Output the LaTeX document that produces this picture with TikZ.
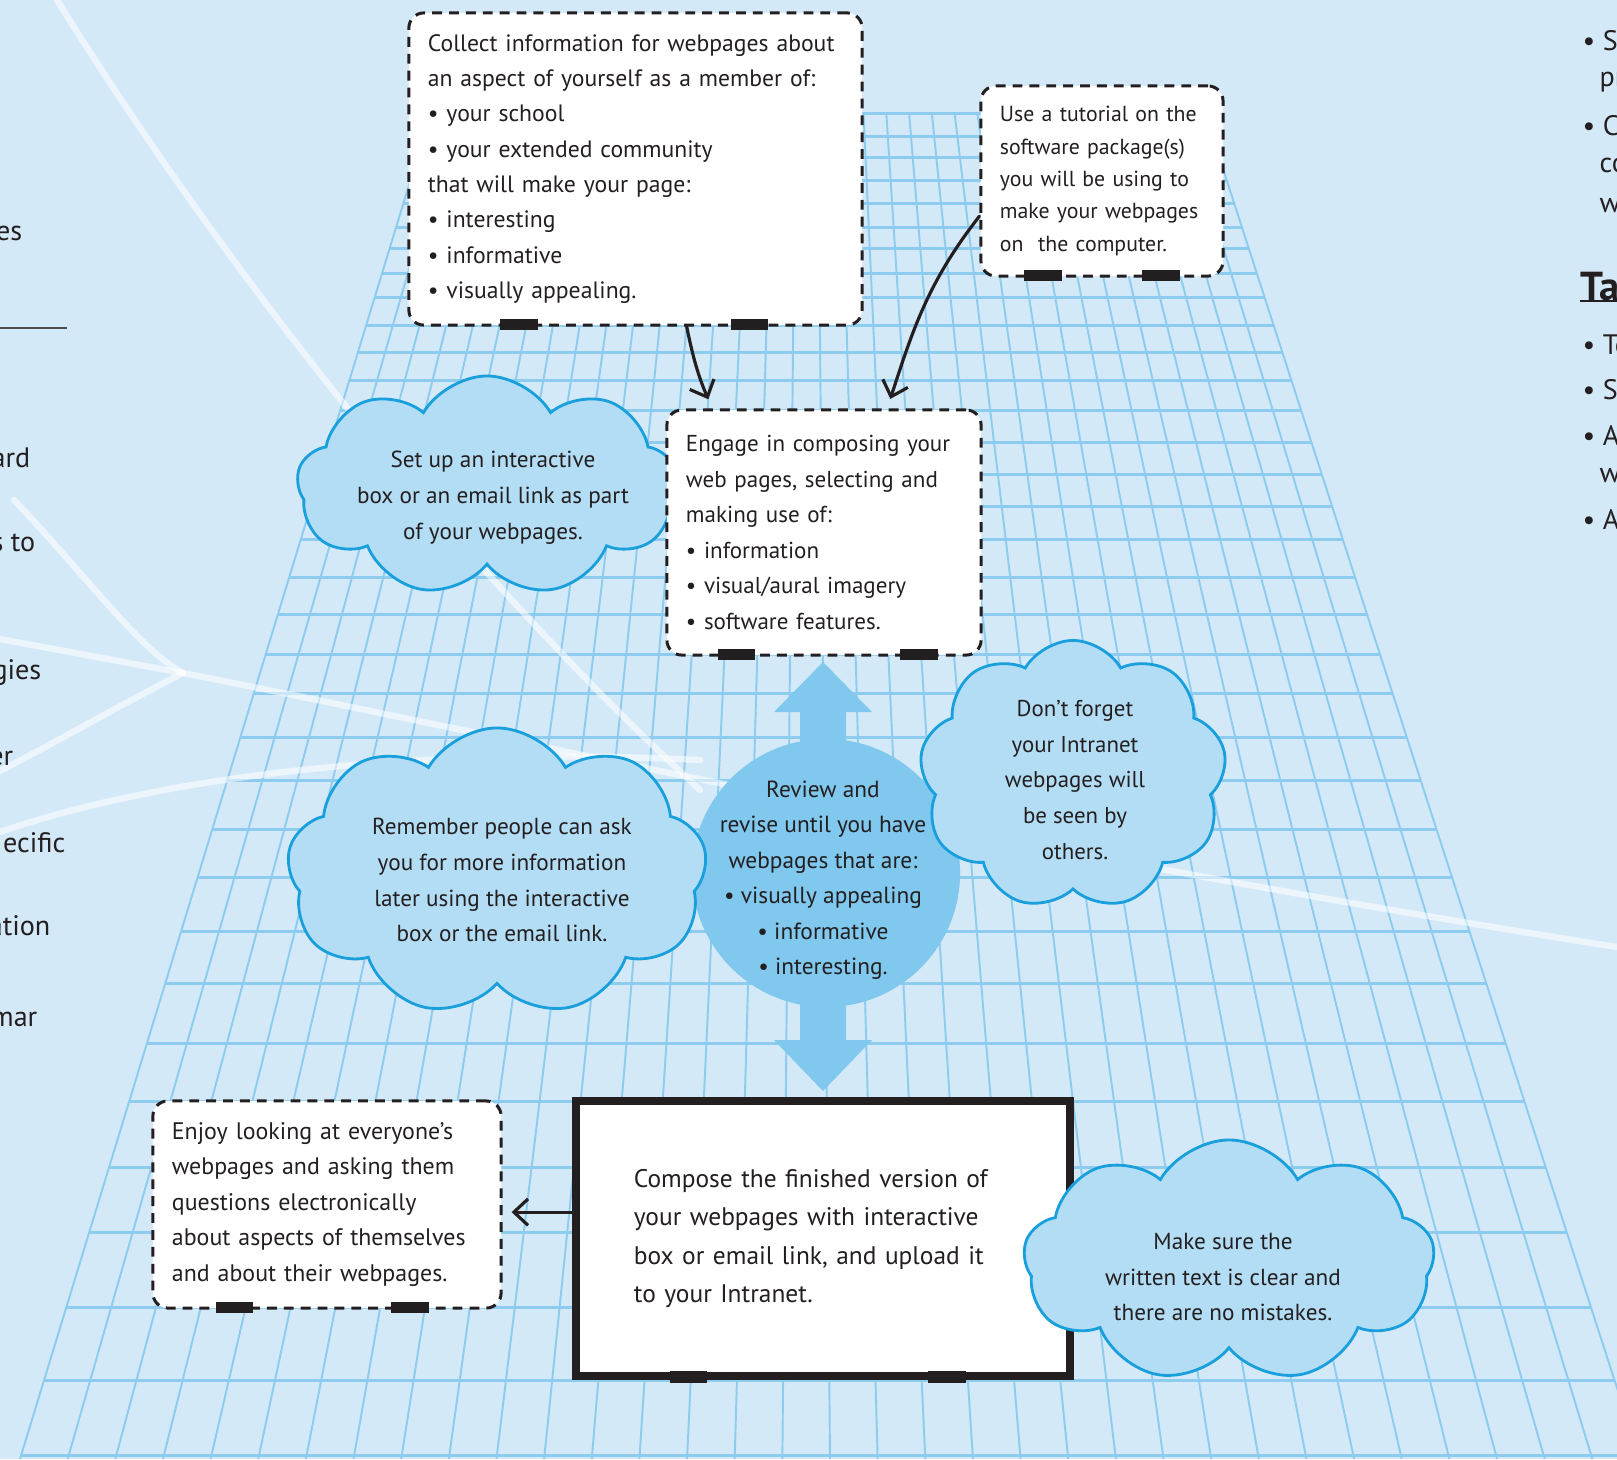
\documentclass[tikz,border=0pt]{standalone}
\usepackage{fontspec}
\setmainfont{PT Sans}
\usetikzlibrary{arrows.meta, positioning, shapes.symbols}

\definecolor{pagebg}{RGB}{212,233,247}
\definecolor{gridblue}{RGB}{141,203,239}
\definecolor{cloudfill}{RGB}{179,221,244}
\definecolor{cloudline}{RGB}{26,159,221}
\definecolor{reviewblue}{RGB}{128,200,238}
\definecolor{ink}{RGB}{35,31,32}

\tikzset{
  notebox/.style={draw=ink, fill=white, line width=0.85pt, dash pattern=on 2.8pt off 2pt,
    rounded corners=0.15cm, align=left, inner xsep=0.19cm, inner ysep=0pt, text=ink},
  mainbox/.style={draw=ink, fill=white, line width=2.3pt, align=left, text=ink,
    inner xsep=0.58cm, inner ysep=0pt},
  thought/.style={cloud, cloud puffs=9, cloud puff arc=120, cloud ignores aspect,
    fill=cloudfill, draw=cloudline, line width=0.8pt, inner sep=0pt},
  thoughttext/.style={align=center, text=ink, inner sep=0pt, font=\fontsize{6.6}{10.2}\selectfont},
  flowarrow/.style={draw=ink, line width=0.9pt, line cap=round,
    -{Straight Barb[length=4pt, width=7.5pt]}},
  gridline/.style={draw=gridblue, line width=0.55pt},
  streak/.style={draw=white, line width=1.8pt, opacity=0.55, line cap=round},
  edgetext/.style={text=ink, inner sep=0pt, font=\fontsize{8}{10}\selectfont},
}

\begin{document}
\hyphenpenalty=10000
\exhyphenpenalty=10000
\begin{tikzpicture}[x=0.01cm, y=-0.01cm]
    \useasboundingbox (0,0) rectangle (1617,1459);
    \fill[pagebg] (0,0) rectangle (1617,1459);

    % Floor grid
    \foreach \i in {0,...,34}
        \draw[gridline] ({431+\i*22.765},113) -- ({20+\i*47.647},1459);
    \foreach \gy in {113,136,157,180,203,227,248,273,297,325,352,380,410,442,474,506,539,577,614,654,693,737,780,829,877,931,983,1043,1101,1167,1232,1307,1380,1455}
        \draw[gridline, line width=0.85pt] ({431-0.305*(\gy-113)},\gy) -- ({1205+0.323*(\gy-113)},\gy);

    % White streaks
    \draw[streak] (57,0) .. controls (200,230) and (430,540) .. (700,790);
    \draw[streak] (14,500) .. controls (90,580) and (140,650) .. (183,673);
    \draw[streak] (0,639) -- (183,673);
    \draw[streak] (183,673) .. controls (120,705) and (60,740) .. (0,771);
    \draw[streak] (183,673) .. controls (500,735) and (1000,850) .. (1617,947);
    \draw[streak] (0,832) .. controls (150,780) and (400,745) .. (700,760);

    % Review circle and two-way arrow
    \fill[reviewblue] (823,662) -- (872,712) -- (846,712) -- (846,1040) -- (872,1040)
        -- (823,1091) -- (774,1040) -- (800,1040) -- (800,712) -- (774,712) -- cycle;
    \node[circle, fill=reviewblue, minimum size=2.68cm, inner sep=0pt] (review) at (826,873) {};
    \node[thoughttext, font=\fontsize{6.64}{10.1}\selectfont] (reviewtext) at (823,880)
        {Review and\\ revise until you have\\ webpages that are:\\ \textbullet\ visually appealing\\ \textbullet\ informative\\ \textbullet\ interesting.};

    % Thought clouds
    \node[thought, minimum width=3.8cm, minimum height=2.2cm] (setup) at (487,486) {};
    \node[thoughttext] (setuptext) at (493,498)
        {Set up an interactive\\ box or an email link as part\\ of your webpages.};
    \node[thought, minimum width=4.2cm, minimum height=2.88cm] (remember) at (497,872) {};
    \node[thoughttext] (remembertext) at (502,880)
        {Remember people can ask\\ you for more information\\ later using the interactive\\ box or the email link.};
    \node[thought, minimum width=3.07cm, minimum height=2.69cm] (forget) at (1073,775) {};
    \node[thoughttext, font=\fontsize{6.5}{10.2}\selectfont] (forgettext) at (1075,780)
        {Don’t forget\\ your Intranet\\ webpages will\\ be seen by\\ others.};

    % Task boxes
    \node[notebox, text width=4.15cm, minimum height=3.12cm, font=\fontsize{6.73}{10.05}\selectfont] (collect) at (635.5,169)
        {Collect information for webpages about\\ an aspect of yourself as a member of:\\ \textbullet\ your school\\ \textbullet\ your extended community\\ that will make your page:\\ \textbullet\ interesting\\ \textbullet\ informative\\ \textbullet\ visually appealing.};
    \node[notebox, text width=2.04cm, minimum height=1.9cm, font=\fontsize{6.2}{9.2}\selectfont] (tutorial) at (1102,181)
        {Use a tutorial on the\\ software package(s)\\ you will be using to\\ make your webpages\\ on\ \ the computer.};
    \node[notebox, text width=2.76cm, minimum height=2.45cm, font=\fontsize{6.55}{10.1}\selectfont] (engage) at (824,532.5)
        {Engage in composing your\\ web pages, selecting and\\ making use of:\\ \textbullet\ information\\ \textbullet\ visual/aural imagery\\ \textbullet\ software features.};
    \node[notebox, text width=3.1cm, minimum height=2.07cm, font=\fontsize{6.8}{10.1}\selectfont] (enjoy) at (327,1204.5)
        {Enjoy looking at everyone’s\\ webpages and asking them\\ questions electronically\\ about aspects of themselves\\ and about their webpages.};
    \node[mainbox, text width=3.78cm, minimum height=2.75cm, font=\fontsize{7.23}{10.9}\selectfont] (compose) at (823,1238.5)
        {Compose the finished version of\\ your webpages with interactive\\ box or email link, and upload it\\ to your Intranet.};

    % Tabs on the box edges
    \fill[ink] (500,319) rectangle (538,330);
    \fill[ink] (731,319) rectangle (768,330);
    \fill[ink] (1024,270) rectangle (1062,281);
    \fill[ink] (1142,270) rectangle (1180,281);
    \fill[ink] (718,649) rectangle (755,660);
    \fill[ink] (900,649) rectangle (938,660);
    \fill[ink] (216,1302) rectangle (253,1313);
    \fill[ink] (391,1302) rectangle (429,1313);
    \fill[ink] (670,1371) rectangle (707,1383);
    \fill[ink] (928,1371) rectangle (966,1383);

    % Last cloud sits over the compose box
    \node[thought, minimum width=4.11cm, minimum height=2.42cm] (check) at (1229,1261) {};
    \node[thoughttext] (checktext) at (1223,1277)
        {Make sure the\\ written text is clear and\\ there are no mistakes.};

    % Connectors
    \draw[flowarrow, shorten >=0.1cm] (collect.288) to[bend right=6] (engage.132);
    \draw[flowarrow, shorten >=0.1cm] (tutorial.196) to[out=232, in=72] (engage.63);
    \draw[flowarrow, shorten >=0.09cm] (compose.174) -- (enjoy.east |- compose.174);

    % Neighbouring page text
    \node[edgetext, anchor=east] (lefta) at (23,233) {es};
    \draw[ink!80, line width=0.5pt] (0,328) -- (67,328);
    \node[edgetext, anchor=east] (leftb) at (31,458) {ard};
    \node[edgetext, anchor=east] (leftc) at (36,543) {s to};
    \node[edgetext, anchor=east] (leftd) at (42,673) {gies};
    \node[edgetext, anchor=east] (lefte) at (14,758) {er};
    \node[edgetext, anchor=east] (leftf) at (66,843) {ecific};
    \node[edgetext, anchor=east] (leftg) at (51,926) {ation};
    \node[edgetext, anchor=east] (lefth) at (38,1019) {mar};

    \node[edgetext, anchor=west] (righta) at (1582,41) {\textbullet\ Sc};
    \node[edgetext, anchor=west] (rightb) at (1599,82) {pr};
    \node[edgetext, anchor=west] (rightc) at (1582,126) {\textbullet\ Co};
    \node[edgetext, anchor=west] (rightd) at (1599,165) {co};
    \node[edgetext, anchor=west] (righte) at (1599,203) {wh};
    \node[edgetext, anchor=west, font=\fontsize{11.5}{13}\bfseries] (rightf) at (1580,286) {Ta};
    \draw[ink, line width=0.7pt] (1580,301) -- (1617,301);
    \node[edgetext, anchor=west] (rightg) at (1582,345) {\textbullet\ To};
    \node[edgetext, anchor=west] (righth) at (1582,390) {\textbullet\ St};
    \node[edgetext, anchor=west] (righti) at (1582,436) {\textbullet\ At};
    \node[edgetext, anchor=west] (rightj) at (1599,475) {we};
    \node[edgetext, anchor=west] (rightk) at (1582,520) {\textbullet\ Av};
\end{tikzpicture}
\end{document}
